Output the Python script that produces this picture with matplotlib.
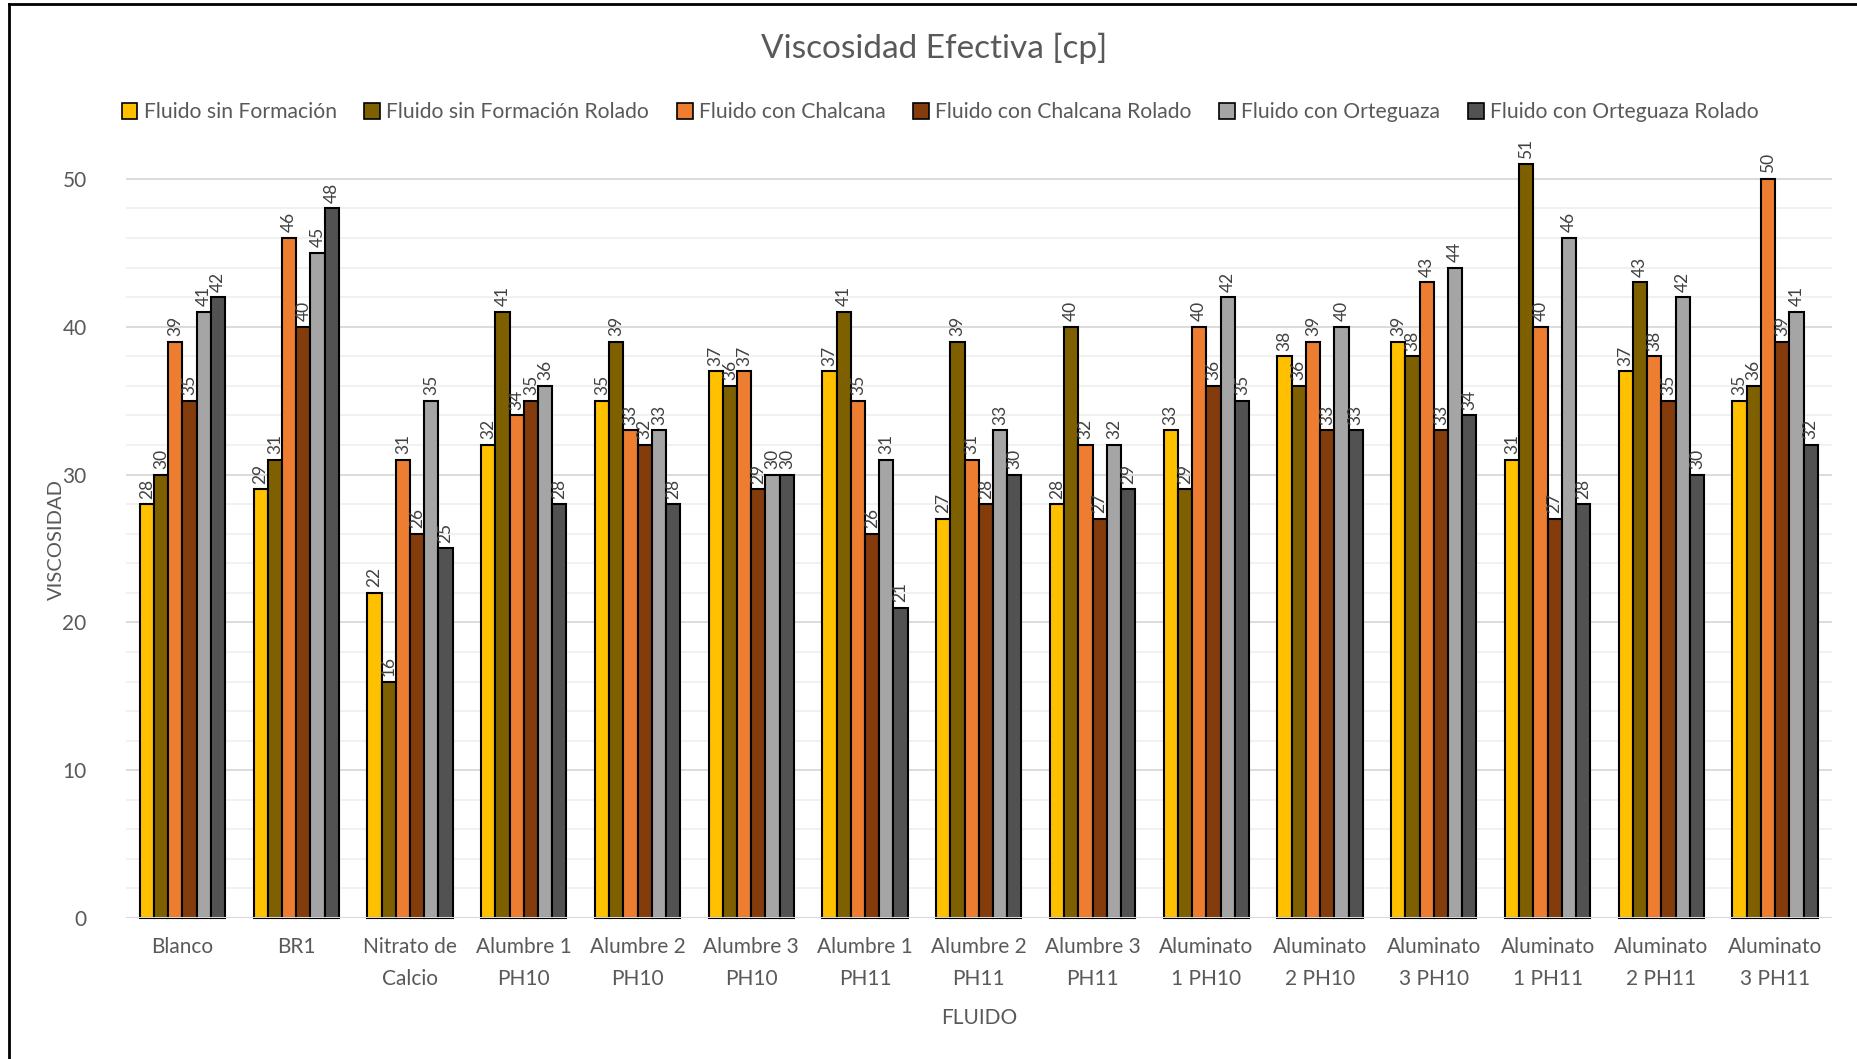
import numpy as np
import matplotlib.pyplot as plt
from matplotlib.lines import Line2D

plt.rcParams['font.family'] = ['Lato', 'DejaVu Sans']

categorias = ['Blanco', 'BR1', 'Nitrato de\nCalcio', 'Alumbre 1\nPH10', 'Alumbre 2\nPH10',
              'Alumbre 3\nPH10', 'Alumbre 1\nPH11', 'Alumbre 2\nPH11', 'Alumbre 3\nPH11',
              'Aluminato\n1 PH10', 'Aluminato\n2 PH10', 'Aluminato\n3 PH10',
              'Aluminato\n1 PH11', 'Aluminato\n2 PH11', 'Aluminato\n3 PH11']

series = ['Fluido sin Formación', 'Fluido sin Formación Rolado', 'Fluido con Chalcana',
          'Fluido con Chalcana Rolado', 'Fluido con Orteguaza', 'Fluido con Orteguaza Rolado']

sin_formacion = [28, 29, 22, 32, 35, 37, 37, 27, 28, 33, 38, 39, 31, 37, 35]
sin_formacion_rolado = [30, 31, 16, 41, 39, 36, 41, 39, 40, 29, 36, 38, 51, 43, 36]
chalcana = [39, 46, 31, 34, 33, 37, 35, 31, 32, 40, 39, 43, 40, 38, 50]
chalcana_rolado = [35, 40, 26, 35, 32, 29, 26, 28, 27, 36, 33, 33, 27, 35, 39]
orteguaza = [41, 45, 35, 36, 33, 30, 31, 33, 32, 42, 40, 44, 46, 42, 41]
orteguaza_rolado = [42, 48, 25, 28, 28, 30, 21, 30, 29, 35, 33, 34, 28, 30, 32]

valores = [sin_formacion, sin_formacion_rolado, chalcana, chalcana_rolado,
           orteguaza, orteguaza_rolado]
colores = ['#FFC000', '#7F6000', '#ED7D31', '#843C0C', '#A5A5A5', '#525252']

gris = '#595959'

fig = plt.figure(figsize=(18.58, 10.59), dpi=100)
ax = fig.add_axes([0.0676, 0.1331, 0.9184, 0.7147])

x = np.arange(len(categorias))
n = len(series)
ancho = 0.75 / n

for i, (vals, col) in enumerate(zip(valores, colores)):
    pos = x - 0.375 + ancho * (i + 0.5)
    ax.bar(pos, vals, ancho, color=col, edgecolor='black', linewidth=1.5,
           zorder=3, clip_on=False)
    for p, v in zip(pos, vals):
        ax.annotate(str(v), (p, v), xytext=(0, 4), textcoords='offset points',
                    rotation=90, ha='center', va='bottom', fontsize=12.5,
                    color='#404040', zorder=4, annotation_clip=False)

# gridlines: light every 2, darker every 10
for y in range(2, 51, 2):
    c = '#D9D9D9' if y % 10 == 0 else '#F0F0F0'
    ax.axhline(y, color=c, linewidth=1.3, zorder=1)
ax.axhline(0, color='#D9D9D9', linewidth=1.5, zorder=4)

ax.set_xlim(-0.5, len(categorias) - 0.5)
ax.set_ylim(0, 51.2)
ax.set_yticks(range(0, 51, 10))
ax.set_xticks(x)
ax.set_xticklabels(categorias, fontsize=15, color=gris, linespacing=1.7)
ax.tick_params(axis='both', length=0, labelsize=15, labelcolor=gris)
ax.tick_params(axis='x', pad=14)
ax.tick_params(axis='y', pad=28)
for s in ax.spines.values():
    s.set_visible(False)

ax.set_ylabel('VISCOSIDAD', fontsize=14.5, color=gris, labelpad=-2)
ax.set_xlabel('FLUIDO', fontsize=15, color=gris, labelpad=14)

fig.text(0.503, 0.954, 'Viscosidad Efectiva [cp]', ha='center', va='center',
         fontsize=24, color=gris)

handles = [plt.Rectangle((0, 0), 1, 1, facecolor=c, edgecolor='black', linewidth=1.2)
           for c in colores]
fig.legend(handles, series, loc='center', bbox_to_anchor=(0.506, 0.894), ncol=6,
           frameon=False, fontsize=15.2, labelcolor=gris, handlelength=0.75,
           handleheight=0.75, handletextpad=0.3, columnspacing=1.3)

# outer frame
fig.add_artist(Line2D([0.0048, 0.0048], [0, 0.9962], transform=fig.transFigure,
                      color='black', linewidth=2))
fig.add_artist(Line2D([0.0048, 1.0], [0.9962, 0.9962], transform=fig.transFigure,
                      color='black', linewidth=2))

plt.savefig('out.png', dpi=100)
